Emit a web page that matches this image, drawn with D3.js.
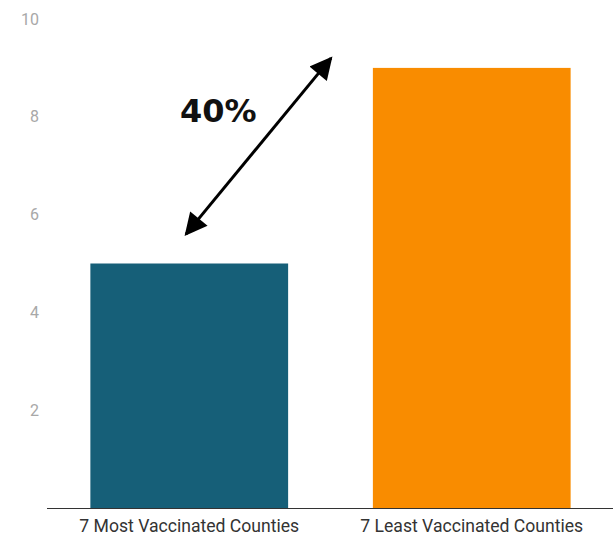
<!DOCTYPE html>
<html>
<head>
<meta charset="utf-8">
<script src="https://cdn.jsdelivr.net/npm/d3@7"></script>
<style>
  body { margin: 0; background: #fff; }
  svg { display: block; }
</style>
</head>
<body>
<svg id="chart" width="615" height="536"></svg>
<script>
const categories = ["7 Most Vaccinated Counties", "7 Least Vaccinated Counties"];
const values = [5, 9];
const colors = ["#165f78", "#f98c00"];
const yTicks = [2, 4, 6, 8, 10];
const annotationLabel = "40%";

const svg = d3.select("#chart");
const x = d3.scaleBand().domain(categories).range([48, 613]).paddingInner(0.3).paddingOuter(0.15);
const y = d3.scaleLinear().domain([0, 10]).range([508, 19]);

// y tick labels
svg.append("g").selectAll("text").data(yTicks).join("text")
  .attr("x", 39).attr("y", d => y(d)).attr("dy", "0.35em")
  .attr("text-anchor", "end")
  .attr("font-family", "Roboto, sans-serif").attr("font-size", 16)
  .attr("fill", "#a8a8a8")
  .text(d => d);

// bars
svg.append("g").selectAll("rect").data(values).join("rect")
  .attr("x", (d, i) => x(categories[i]))
  .attr("width", x.bandwidth())
  .attr("y", d => y(d))
  .attr("height", d => y(0) - y(d))
  .attr("fill", (d, i) => colors[i]);

// baseline
svg.append("line")
  .attr("x1", 47).attr("x2", 613).attr("y1", y(0) + 0.5).attr("y2", y(0) + 0.5)
  .attr("stroke", "#333").attr("stroke-width", 1.2);

// category labels
svg.append("g").selectAll("text").data(categories).join("text")
  .attr("x", d => x(d) + x.bandwidth() / 2).attr("y", 532)
  .attr("text-anchor", "middle")
  .attr("font-family", "Roboto, sans-serif").attr("font-size", 17.6)
  .attr("fill", "#333")
  .text(d => d);

// arrow annotation
const defs = svg.append("defs");
defs.append("marker").attr("id", "ah")
  .attr("viewBox", "0 0 10 10").attr("refX", 9).attr("refY", 5)
  .attr("markerWidth", 9).attr("markerHeight", 7.5).attr("markerUnits", "strokeWidth")
  .attr("orient", "auto-start-reverse")
  .append("path").attr("d", "M0,0 L10,5 L0,10 Z").attr("fill", "#000");

svg.append("line")
  .attr("x1", 186).attr("y1", y(5.6))
  .attr("x2", 331).attr("y2", y(9.2))
  .attr("stroke", "#000").attr("stroke-width", 3)
  .attr("marker-start", "url(#ah)").attr("marker-end", "url(#ah)");

svg.append("text")
  .attr("x", 180).attr("y", 122)
  .attr("font-family", "'DejaVu Sans', sans-serif").attr("font-weight", "bold")
  .attr("font-size", 32).attr("fill", "#111")
  .text(annotationLabel);
</script>
</body>
</html>
